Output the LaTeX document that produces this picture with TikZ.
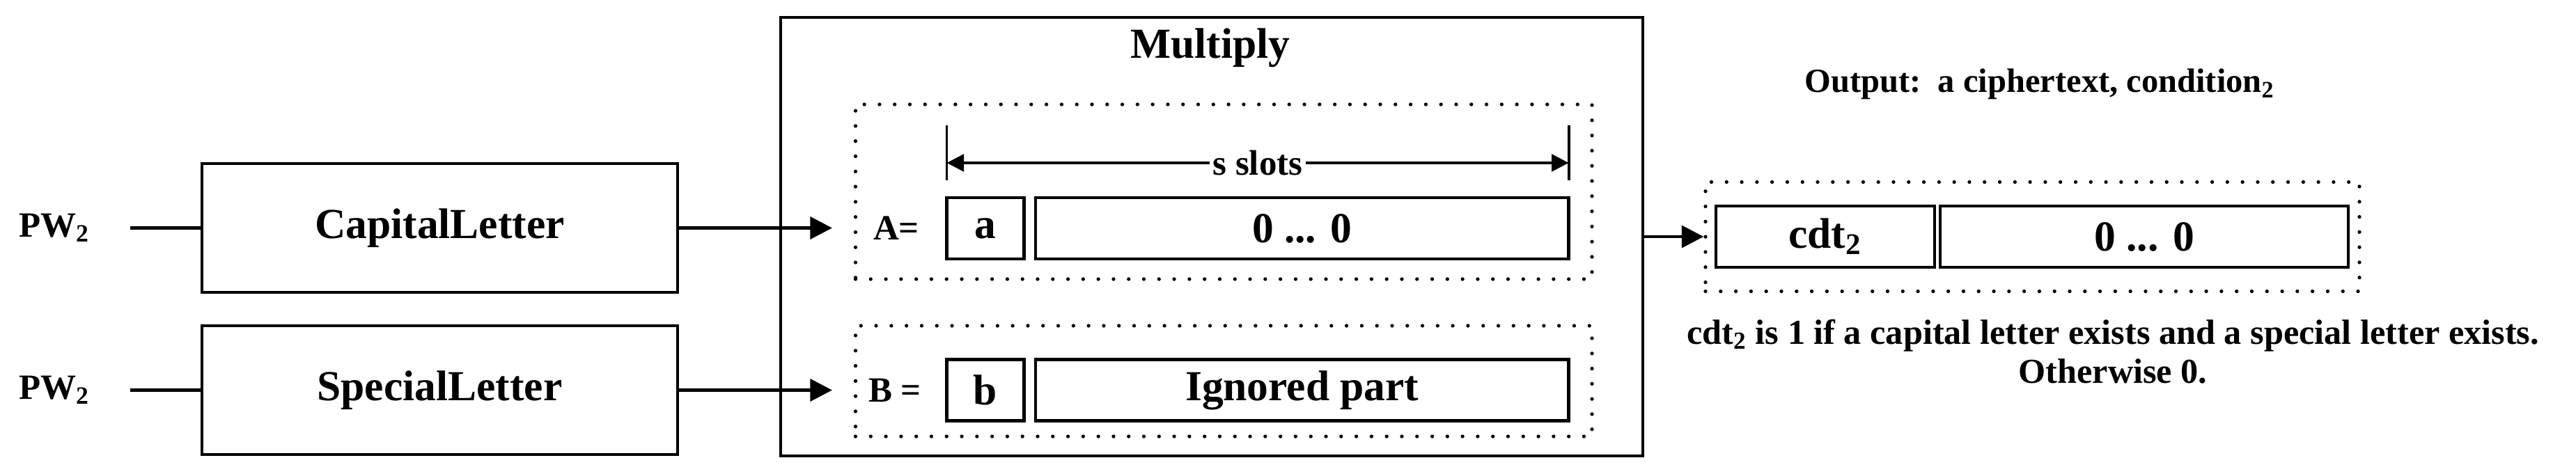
\documentclass[tikz,border=0pt]{standalone}
\usepackage{fontspec}
\setmainfont{Liberation Serif}
\usetikzlibrary{arrows.meta}
\begin{document}
\begin{tikzpicture}[
        every node/.style={font=\bfseries\fontsize{14.5}{16}\selectfont},
        big/.style={font=\bfseries\fontsize{17.5}{21}\selectfont},
        block/.style={draw, line width=1.4pt, minimum width=6.83cm, minimum height=1.85cm, big},
        slot/.style={draw, line width=1.4pt, minimum height=0.88cm, inner sep=0pt, big},
        dotbox/.style={draw, line width=1.5pt, dash pattern=on 0pt off 6.2pt, line cap=round},
        arr/.style={line width=1.4pt, -{Triangle[length=9pt,width=9pt]}},
        dimarr/.style={line width=1.1pt, -{Triangle[length=7pt,width=7pt]}}
    ]
            \useasboundingbox (0,0) rectangle (36.99,6.80);

            \node (pw1) at (0.78,3.525) {PW\textsubscript{2}};
            \node (pw2) at (0.78,1.195) {PW\textsubscript{2}};
            \coordinate (in1) at (1.87,3.525);
            \coordinate (in2) at (1.87,1.195);
            \node[block] (cap) at (6.315,3.525) {CapitalLetter};
            \node[block] (spec) at (6.315,1.195) {SpecialLetter};
            \draw[line width=1.4pt] (in1) -- (cap);
            \draw[line width=1.4pt] (in2) -- (spec);

            \node[draw, line width=1.2pt, minimum width=12.38cm, minimum height=6.30cm] (mul) at (17.40,3.40) {};
            \node[big] (multxt) at (17.38,6.11) {Multiply};
            \node[dotbox, minimum width=10.575cm, minimum height=2.51cm] (boxA) at (17.5725,4.045) {};
            \node[dotbox, minimum width=10.575cm, minimum height=1.59cm] (boxB) at (17.5725,1.325) {};
            \node (Alab) at (12.87,3.52) {A=};
            \node (Blab) at (12.85,1.195) {B =};
            \node[slot, minimum width=1.11cm] (a) at (14.15,3.52) {a};
            \node[slot, minimum width=7.656cm] (zA) at (18.698,3.52) {0 ... 0};
            \node[slot, minimum width=1.11cm] (b) at (14.15,1.195) {b};
            \node[slot, minimum width=7.656cm] (ign) at (18.698,1.195) {Ignored part};

            \coordinate (tl) at (13.595,5.00);
            \coordinate (bl) at (13.595,4.21);
            \coordinate (tr) at (22.526,5.00);
            \coordinate (br) at (22.526,4.21);
            \coordinate (dl) at (13.595,4.46);
            \coordinate (dr) at (22.526,4.46);
            \node[inner sep=1pt] (slots) at (18.06,4.46) {s slots};
            \draw[line width=1.1pt] (tl) -- (bl);
            \draw[line width=1.1pt] (tr) -- (br);
            \draw[dimarr] (slots) -- (dl);
            \draw[dimarr] (slots) -- (dr);

            \coordinate (endA) at (11.95,3.525);
            \coordinate (endB) at (11.95,1.195);
            \draw[arr] (cap) -- (endA);
            \draw[arr] (spec) -- (endB);

            \node[font=\bfseries\fontsize{13.8}{16}\selectfont] (outtxt) at (29.29,5.59) {Output:\ \ a ciphertext, condition\textsubscript{2}};
            \node[dotbox, minimum width=9.39cm, minimum height=1.57cm] (out) at (29.185,3.40) {};
            \node[slot, minimum width=3.14cm] (cdt) at (26.21,3.40) {cdt\textsubscript{2}};
            \node[slot, minimum width=5.86cm] (zO) at (30.79,3.40) {0 ... 0};
            \draw[arr] (mul) -- (out);
            \node[align=center, font=\bfseries\fontsize{14.3}{16}\selectfont] (note) at (30.34,1.75) {cdt\textsubscript{2} is 1 if a capital letter exists and a special letter exists.\\ Otherwise 0.};
        \end{tikzpicture}
\end{document}
